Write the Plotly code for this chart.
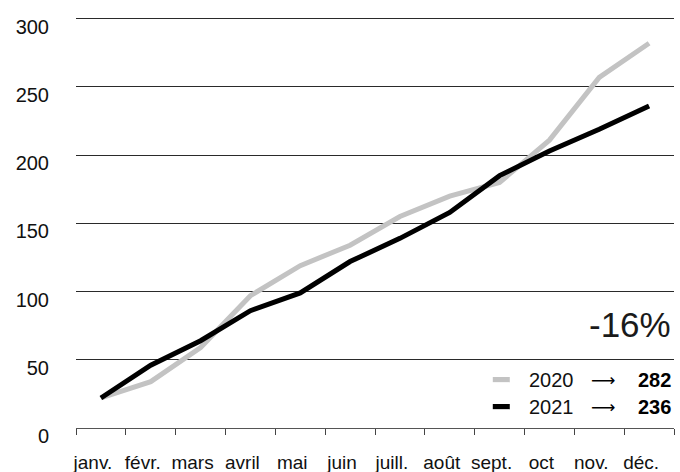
import plotly.graph_objects as go

months = ["janv.", "févr.", "mars", "avril", "mai", "juin", "juill.", "août", "sept.", "oct", "nov.", "déc."]
values_2020 = [22, 34, 59, 97, 119, 134, 155, 170, 180, 211, 257, 282]
values_2021 = [22, 46, 64, 86, 99, 122, 139, 158, 185, 203, 219, 236]
series_names = ["2020", "2021"]
y_ticks = [0, 50, 100, 150, 200, 250, 300]

FONT = "Liberation Sans, Arial, Helvetica, sans-serif"
GRAY = "#c3c3c3"
BLACK = "#000000"

fig = go.Figure()
fig.add_trace(go.Scatter(x=months, y=values_2020, mode="lines", name=series_names[0],
                         line=dict(color=GRAY, width=5), hoverinfo="skip"))
fig.add_trace(go.Scatter(x=months, y=values_2021, mode="lines", name=series_names[1],
                         line=dict(color=BLACK, width=5), hoverinfo="skip"))

W, H = 680, 472
ml, mr, mt, mb = 76, 5.7, 15.6, 43.5
fig.update_layout(
    width=W, height=H,
    margin=dict(l=ml, r=mr, t=mt, b=mb, pad=0, autoexpand=False),
    paper_bgcolor="white", plot_bgcolor="white",
    showlegend=False,
    font=dict(family=FONT, size=20, color="#111"),
)
fig.update_xaxes(
    type="category", range=[-0.5, 11.5], automargin=False, tickangle=0,
    tickson="boundaries", ticks="outside", ticklen=6, tickwidth=1, tickcolor="#444",
    showline=True, linecolor="#555", linewidth=1,
    showgrid=False, zeroline=False,
    tickfont=dict(size=19, color="#111"),
    ticklabelshift=-8, ticklabelstandoff=17, ticklabeloverflow="allow",
)
fig.update_yaxes(
    range=[0, 302], tickvals=y_ticks, ticktext=[str(v) for v in y_ticks], automargin=False,
    showgrid=True, gridcolor="#2a2a2a", gridwidth=1,
    zeroline=False, showline=False, ticks="",
    tickfont=dict(size=20, color="#111"),
    ticklabelshift=8, ticklabelstandoff=26, ticklabeloverflow="allow",
)

# change annotation
last20, last21 = values_2020[-1], values_2021[-1]
pct = round((last21 - last20) / last20 * 100)
fig.add_annotation(xref="paper", yref="y", x=1, y=75.7, xanchor="right", yanchor="middle",
                   xshift=-1, text=f"{pct}%", showarrow=False,
                   font=dict(size=35, color="#1a1a1a", family=FONT))

# legend rows
rows = [(series_names[0], last20, GRAY, 35.5), (series_names[1], last21, BLACK, 15.7)]
pw = W - ml - mr
for name, last, col, yc in rows:
    fig.add_annotation(xref="paper", yref="y", x=1, y=yc, xanchor="right", yanchor="middle",
                       xshift=-1, text=f"<b>{last}</b>", showarrow=False,
                       font=dict(size=20, color="#000", family=FONT))
    fig.add_annotation(xref="paper", yref="y", x=1, y=yc, xanchor="center", yanchor="middle",
                       xshift=-70.8, text="⟶", showarrow=False,
                       font=dict(size=17, color="#000", family="DejaVu Sans"))
    fig.add_annotation(xref="paper", yref="y", x=1, y=yc, xanchor="right", yanchor="middle",
                       xshift=-98, text=name, showarrow=False,
                       font=dict(size=20, color="#111", family=FONT))
    fig.add_shape(type="rect", xref="paper", yref="y",
                  x0=(493 - ml) / pw, x1=(510 - ml) / pw, y0=yc - 1.9, y1=yc + 1.9,
                  fillcolor=col, line=dict(width=0))

fig.write_html("out.html", config={"displayModeBar": False},
               post_script="document.body.style.margin='0';")
